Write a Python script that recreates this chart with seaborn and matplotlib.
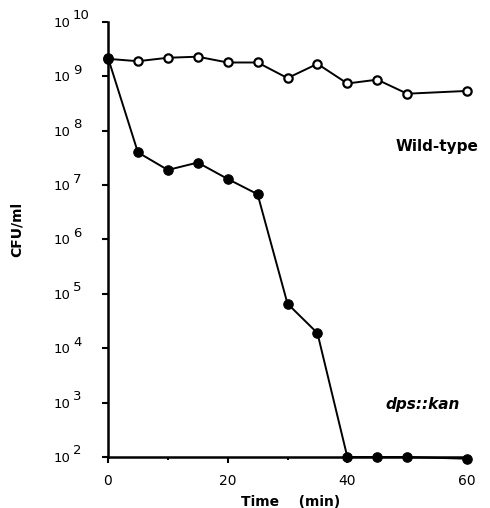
import matplotlib
matplotlib.use("Agg")
import matplotlib.pyplot as plt
import matplotlib.ticker as mticker
import numpy as np
import pandas as pd
import seaborn as sns

# laikas (min)
laikas = [0, 5, 10, 15, 20, 25, 30, 35, 40, 45, 50, 60]
# CFU/ml, nuskaityta nuo paveikslo
wild_type = [2.1e9, 1.9e9, 2.2e9, 2.3e9, 1.8e9, 1.8e9, 9.3e8, 1.7e9, 7.4e8, 8.7e8, 4.8e8, 5.4e8]
dps_kan = [2.2e9, 4.0e7, 1.9e7, 2.6e7, 1.3e7, 6.8e6, 6.6e4, 1.9e4, 1.0e2, 1.0e2, 1.0e2, 0.93e2]
laipsniai = [2, 3, 4, 5, 6, 7, 8, 9, 10]

df = pd.DataFrame({'laikas': laikas + laikas,
                   'cfu': wild_type + dps_kan,
                   'kamienas': ['Wild-type'] * len(laikas) + ['dps::kan'] * len(laikas)})

sns.set_style('ticks')
plt.rcParams['font.family'] = ['DejaVu Sans']
plt.rcParams['text.color'] = 'black'
plt.rcParams['axes.labelcolor'] = 'black'
plt.rcParams['xtick.color'] = 'black'
plt.rcParams['ytick.color'] = 'black'
plt.rcParams['axes.edgecolor'] = 'black'

fig = plt.figure(figsize=(4.9, 5.08), dpi=100)
ax = fig.add_axes([0.2204, 0.1004, 0.7327, 0.8563])

wt = df[df['kamienas'] == 'Wild-type']
dk = df[df['kamienas'] == 'dps::kan']
sns.lineplot(data=wt, x='laikas', y='cfu', ax=ax, color='black', linewidth=1.4,
             marker='o', markersize=6, markerfacecolor='white', markeredgecolor='black',
             markeredgewidth=1.6, clip_on=False, zorder=3)
sns.lineplot(data=dk, x='laikas', y='cfu', ax=ax, color='black', linewidth=1.4,
             marker='o', markersize=6.8, markerfacecolor='black', markeredgecolor='black',
             markeredgewidth=0.8, clip_on=False, zorder=4)

ax.set_yscale('log')
ax.set_ylim(1e2, 1e10)
ax.set_xlim(0, 60)
ax.set_yticks([10.0 ** d for d in laipsniai])
ax.yaxis.set_minor_locator(mticker.NullLocator())
ax.set_yticklabels(['10'] * len(laipsniai))
# laipsnio rodikliai kaip virsutiniai indeksai
for d in laipsniai:
    ax.annotate(str(d), xy=(0, 10.0 ** d), xycoords=('axes fraction', 'data'),
                xytext=(-35, 6), textcoords='offset pixels', ha='left', va='center',
                fontsize=9.5, color='black')
ax.set_xticks([0, 20, 40, 60])
ax.set_xticks([10, 30, 50], minor=True)

for s in ['top', 'right']:
    ax.spines[s].set_visible(False)
for s in ['left', 'bottom']:
    ax.spines[s].set_linewidth(1.8)
ax.tick_params(axis='y', which='major', length=4.3, width=1.5, labelsize=9.5, pad=22.5)
ax.tick_params(axis='x', which='major', length=4, width=1.5, labelsize=10, pad=8.5)
ax.tick_params(axis='x', which='minor', length=2.5, width=1.5)

ax.set_xlabel('Time    (min)', fontsize=10, fontweight='bold')
ax.xaxis.set_label_coords(0.51, -0.088)
ax.set_ylabel('CFU/ml', fontsize=10, fontweight='bold')
ax.yaxis.set_label_coords(-0.235, 0.522)

ax.text(55.0, 5.2e7, 'Wild-type', fontsize=11, fontweight='bold', ha='center', va='center')
ax.text(52.5, 9.4e2, 'dps::kan', fontsize=11, fontweight='bold', style='italic', ha='center', va='center')

fig.savefig('out.png', dpi=100)
